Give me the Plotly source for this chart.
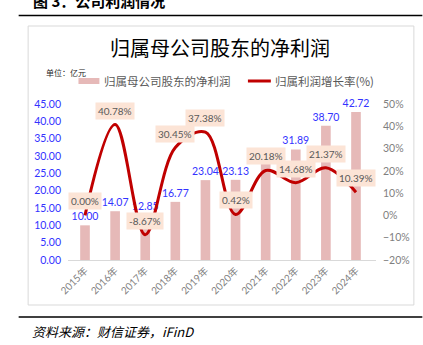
import plotly.graph_objects as go

# Data: net profit attributable to parent (100m CNY) and YoY growth (%)
years = ["2015年", "2016年", "2017年", "2018年", "2019年",
         "2020年", "2021年", "2022年", "2023年", "2024年"]
net_profit = [10.00, 14.07, 12.85, 16.77, 23.04, 23.13, 27.80, 31.89, 38.70, 42.72]
growth = [0.00, 40.78, -8.67, 30.45, 37.38, 0.42, 20.18, 14.68, 21.37, 10.39]

W, H = 423, 345
L, R, T, B = 67.5, 46.5, 104, 85
pw, ph = W - L - R, H - T - B

def px(x):
    return (x - L) / pw

def py(y):
    return (H - B - y) / ph

FONT = "Lato, Noto Sans CJK SC"
CJK = "Noto Sans CJK SC"
BAR_COLOR = "#E6B9B8"
LINE_COLOR = "#C00000"

fig = go.Figure()

fig.add_trace(go.Bar(
    x=years, y=net_profit, name="归属母公司股东的净利润",
    marker=dict(color=BAR_COLOR, line=dict(width=0)),
    width=0.32,
    text=[f"{v:.2f}" for v in net_profit],
    textposition="outside",
    constraintext="none",
    textfont=dict(family=FONT, size=10.5, color="#3333FF"),
    cliponaxis=False,
))

fig.add_trace(go.Scatter(
    x=years, y=growth, name="归属利润增长率(%)", yaxis="y2",
    mode="lines", line=dict(color=LINE_COLOR, width=3, shape="spline", smoothing=1),
    cliponaxis=False,
))

annotations = []
# growth value labels with shaded boxes
for yr, g in zip(years, growth):
    annotations.append(dict(
        x=yr, y=g, xref="x", yref="y2", yshift=14,
        text=f"{g:.2f}%", showarrow=False,
        font=dict(family=FONT, size=10, color="#595959"),
        bgcolor="#FCE4D6", borderpad=2,
    ))

# page header, chart title, unit and source
annotations += [
    dict(x=px(30), y=py(1), xref="paper", yref="paper", xanchor="left", yanchor="middle",
         text="<b>图 3：公司利润情况</b>", showarrow=False,
         font=dict(family=CJK, size=15, color="#000000")),
    dict(x=px(220), y=py(48), xref="paper", yref="paper", xanchor="center", yanchor="middle",
         text="归属母公司股东的净利润", showarrow=False,
         font=dict(family=CJK, size=20, color="#000000")),
    dict(x=px(43), y=py(72), xref="paper", yref="paper", xanchor="left", yanchor="middle",
         text="单位：亿元", showarrow=False,
         font=dict(family=CJK, size=8, color="#262626")),
    dict(x=px(102), y=py(81), xref="paper", yref="paper", xanchor="left", yanchor="middle",
         text="归属母公司股东的净利润", showarrow=False,
         font=dict(family=CJK, size=11.5, color="#595959")),
    dict(x=px(273), y=py(81), xref="paper", yref="paper", xanchor="left", yanchor="middle",
         text="归属利润增长率(%)", showarrow=False,
         font=dict(family=CJK, size=11.5, color="#595959")),
    dict(x=px(29), y=py(331), xref="paper", yref="paper", xanchor="left", yanchor="middle",
         text="资料来源：财信证券，iFinD", showarrow=False,
         font=dict(family=CJK, size=13, color="#000000", style="italic")),
]

shapes = [
    # chart frame
    dict(type="rect", xref="paper", yref="paper", x0=px(27.5), x1=px(414.5), y0=py(26), y1=py(305),
         line=dict(color="#D9D9D9", width=1), layer="below"),
    # rules above and below
    dict(type="line", xref="paper", yref="paper", x0=px(18), x1=px(423), y0=py(15.5), y1=py(15.5),
         line=dict(color="#000000", width=1.5)),
    dict(type="line", xref="paper", yref="paper", x0=px(18), x1=px(423), y0=py(317), y1=py(317),
         line=dict(color="#000000", width=1.5)),
    # legend keys
    dict(type="rect", xref="paper", yref="paper", x0=px(78), x1=px(99), y0=py(78), y1=py(84),
         fillcolor=BAR_COLOR, line=dict(width=0)),
    dict(type="line", xref="paper", yref="paper", x0=px(248), x1=px(271), y0=py(81), y1=py(81),
         line=dict(color=LINE_COLOR, width=3)),
]

fig.update_layout(
    width=W, height=H,
    margin=dict(l=L, r=R, t=T, b=B, pad=0),
    paper_bgcolor="white", plot_bgcolor="white",
    showlegend=False,
    bargap=0.68,
    xaxis=dict(
        type="category", tickangle=-45, showgrid=False,
        showline=True, linecolor="#D9D9D9", linewidth=1, ticks="",
        tickfont=dict(family=FONT, size=10, color="#7F7F7F"),
    ),
    yaxis=dict(
        range=[0, 45], dtick=5, tickformat=".2f", showgrid=False, zeroline=False,
        showline=False, ticks="", ticklabelstandoff=6,
        tickfont=dict(family=FONT, size=10.5, color="#3333FF"),
    ),
    yaxis2=dict(
        range=[-20, 50], dtick=10, ticksuffix="%", overlaying="y", side="right",
        showgrid=False, zeroline=False, showline=False, ticks="", ticklabelstandoff=6,
        tickfont=dict(family=FONT, size=10.5, color="#7F7F7F"),
    ),
    annotations=annotations,
    shapes=shapes,
)

fig.write_html("out.html")
